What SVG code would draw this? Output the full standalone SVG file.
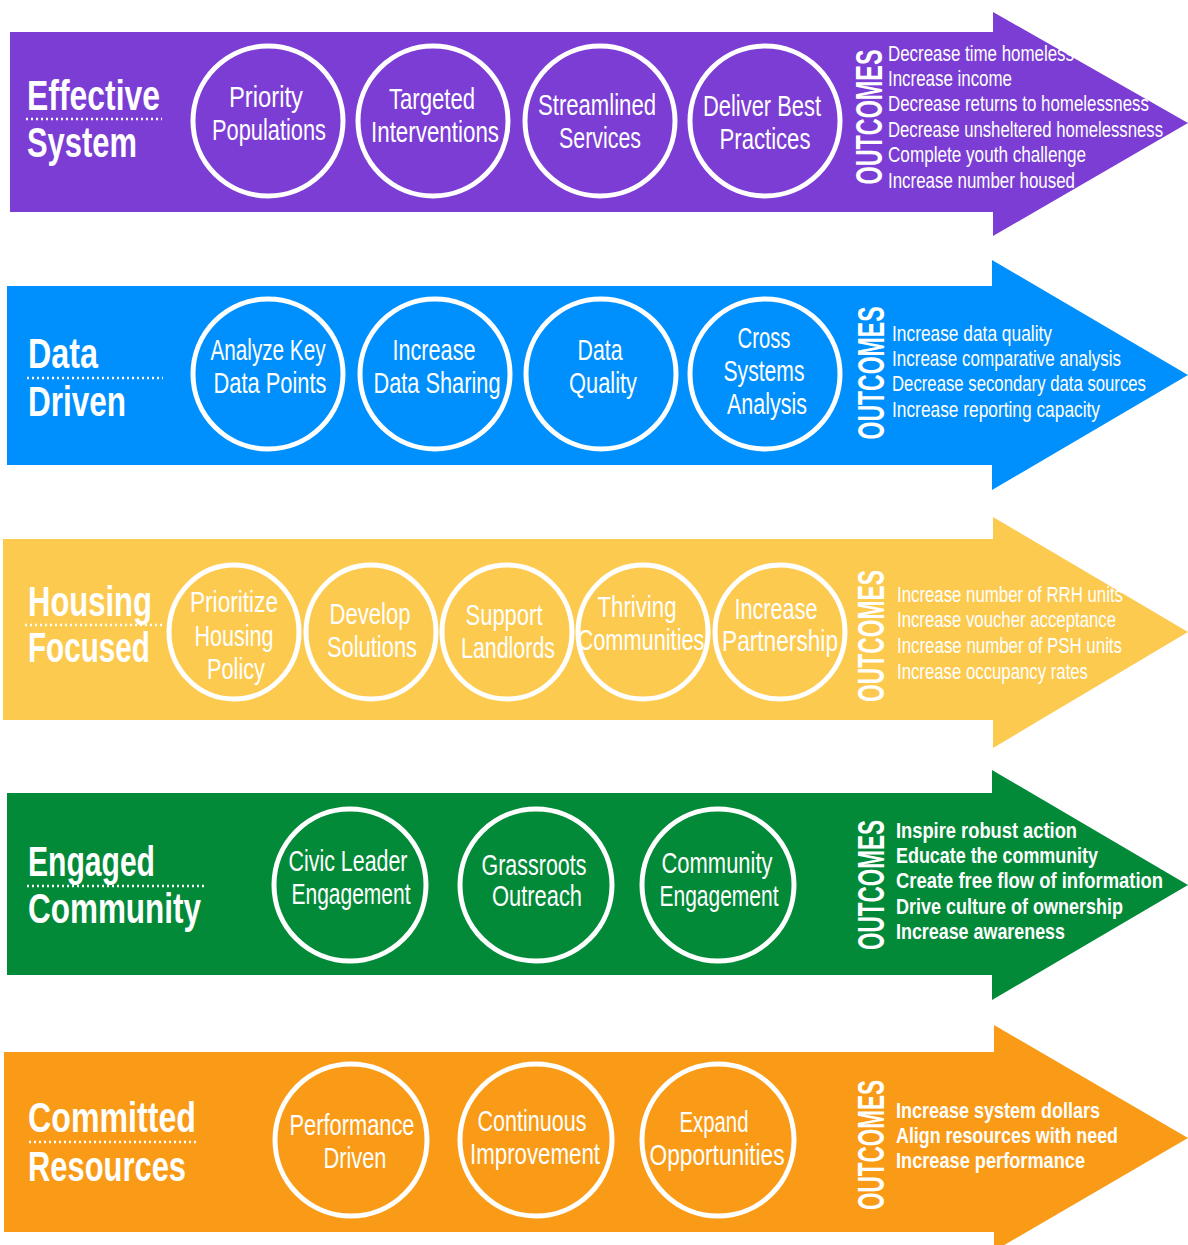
<svg xmlns="http://www.w3.org/2000/svg" width="1188" height="1245" viewBox="0 0 1188 1245">
<style>
text{fill:#fff;font-family:"Liberation Sans Narrow","Liberation Sans",Arial,sans-serif}
.title{font-size:42px;font-weight:bold}
.node{font-size:29px;text-anchor:middle}
.light{font-size:30px;text-anchor:middle}
.oc{font-size:37px;font-weight:bold;text-anchor:middle}
.out{font-size:22px}
.outb{font-size:22px;font-weight:bold}
.ring{fill:none;stroke:#fff;stroke-width:5}
.dots{stroke:#fff;stroke-width:2.5;stroke-dasharray:2 3}
</style>
<rect width="1188" height="1245" fill="#fff"/>

<g id="band-effective-system">
<polygon points="10,32 993,32 993,12 1188,123 993,236 993,212 10,212" fill="#7b3dd4"/>
<text class="title" x="27" y="110" textLength="133" lengthAdjust="spacingAndGlyphs">Effective</text>
<line class="dots" x1="26" y1="119" x2="162" y2="119"/>
<text class="title" x="27" y="157" textLength="110" lengthAdjust="spacingAndGlyphs">System</text>
<g id="n-priority"><circle class="ring" cx="268" cy="121" r="75"/>
<text class="node" x="266" y="107" textLength="74" lengthAdjust="spacingAndGlyphs">Priority</text>
<text class="node" x="269" y="140" textLength="114" lengthAdjust="spacingAndGlyphs">Populations</text></g>
<g id="n-targeted"><circle class="ring" cx="433" cy="121" r="75"/>
<text class="node" x="432" y="109" textLength="86" lengthAdjust="spacingAndGlyphs">Targeted</text>
<text class="node" x="435" y="142" textLength="128" lengthAdjust="spacingAndGlyphs">Interventions</text></g>
<g id="n-streamlined"><circle class="ring" cx="600" cy="121" r="75"/>
<text class="node" x="597" y="115" textLength="118" lengthAdjust="spacingAndGlyphs">Streamlined</text>
<text class="node" x="600" y="148" textLength="82" lengthAdjust="spacingAndGlyphs">Services</text></g>
<g id="n-deliver"><circle class="ring" cx="765" cy="121" r="75"/>
<text class="node" x="762" y="116" textLength="118" lengthAdjust="spacingAndGlyphs">Deliver Best</text>
<text class="node" x="765" y="149" textLength="91" lengthAdjust="spacingAndGlyphs">Practices</text></g>
<g id="o-effective">
<text class="oc" transform="translate(882,117) rotate(-90)" textLength="135" lengthAdjust="spacingAndGlyphs">OUTCOMES</text>
<text class="out" x="888" y="61" textLength="186" lengthAdjust="spacingAndGlyphs">Decrease time homeless</text>
<text class="out" x="888" y="86" textLength="124" lengthAdjust="spacingAndGlyphs">Increase income</text>
<text class="out" x="888" y="111" textLength="261" lengthAdjust="spacingAndGlyphs">Decrease returns to homelessness</text>
<text class="out" x="888" y="137" textLength="275" lengthAdjust="spacingAndGlyphs">Decrease unsheltered homelessness</text>
<text class="out" x="888" y="162" textLength="198" lengthAdjust="spacingAndGlyphs">Complete youth challenge</text>
<text class="out" x="888" y="188" textLength="187" lengthAdjust="spacingAndGlyphs">Increase number housed</text>
</g>
</g>

<g id="band-data-driven">
<polygon points="7,286 992,286 992,260 1188,375 992,490 992,465 7,465" fill="#0090fe"/>
<text class="title" x="28" y="368" textLength="70" lengthAdjust="spacingAndGlyphs">Data</text>
<line class="dots" x1="27" y1="378" x2="163" y2="378"/>
<text class="title" x="28" y="416" textLength="98" lengthAdjust="spacingAndGlyphs">Driven</text>
<g id="n-analyze"><circle class="ring" cx="268" cy="374" r="75"/>
<text class="node" x="268" y="360" textLength="115" lengthAdjust="spacingAndGlyphs">Analyze Key</text>
<text class="node" x="270" y="393" textLength="113" lengthAdjust="spacingAndGlyphs">Data Points</text></g>
<g id="n-sharing"><circle class="ring" cx="435" cy="374" r="75"/>
<text class="node" x="434" y="360" textLength="83" lengthAdjust="spacingAndGlyphs">Increase</text>
<text class="node" x="437" y="393" textLength="127" lengthAdjust="spacingAndGlyphs">Data Sharing</text></g>
<g id="n-quality"><circle class="ring" cx="601" cy="374" r="75"/>
<text class="node" x="600" y="360" textLength="45" lengthAdjust="spacingAndGlyphs">Data</text>
<text class="node" x="603" y="393" textLength="68" lengthAdjust="spacingAndGlyphs">Quality</text></g>
<g id="n-cross"><circle class="ring" cx="765" cy="374" r="75"/>
<text class="node" x="764" y="348" textLength="53" lengthAdjust="spacingAndGlyphs">Cross</text>
<text class="node" x="764" y="381" textLength="81" lengthAdjust="spacingAndGlyphs">Systems</text>
<text class="node" x="767" y="414" textLength="80" lengthAdjust="spacingAndGlyphs">Analysis</text></g>
<g id="o-data">
<text class="oc" transform="translate(884,373) rotate(-90)" textLength="133" lengthAdjust="spacingAndGlyphs">OUTCOMES</text>
<text class="out" x="892" y="341" textLength="160" lengthAdjust="spacingAndGlyphs">Increase data quality</text>
<text class="out" x="892" y="366" textLength="229" lengthAdjust="spacingAndGlyphs">Increase comparative analysis</text>
<text class="out" x="892" y="391" textLength="254" lengthAdjust="spacingAndGlyphs">Decrease secondary data sources</text>
<text class="out" x="892" y="417" textLength="208" lengthAdjust="spacingAndGlyphs">Increase reporting capacity</text>
</g>
</g>

<g id="band-housing-focused">
<polygon points="3,539 993,539 993,517 1188,632 993,748 993,720 3,720" fill="#fdca50"/>
<text class="title" x="28" y="616" textLength="124" lengthAdjust="spacingAndGlyphs">Housing</text>
<line class="dots" x1="25" y1="625" x2="162" y2="625"/>
<text class="title" x="28" y="662" textLength="122" lengthAdjust="spacingAndGlyphs">Focused</text>
<g id="n-prioritize"><ellipse class="ring" cx="234" cy="632" rx="65" ry="67"/>
<text class="light" x="234" y="612" textLength="88" lengthAdjust="spacingAndGlyphs">Prioritize</text>
<text class="light" x="234" y="646" textLength="79" lengthAdjust="spacingAndGlyphs">Housing</text>
<text class="light" x="236" y="679" textLength="58" lengthAdjust="spacingAndGlyphs">Policy</text></g>
<g id="n-develop"><ellipse class="ring" cx="371" cy="632" rx="65" ry="67"/>
<text class="light" x="370" y="624" textLength="81" lengthAdjust="spacingAndGlyphs">Develop</text>
<text class="light" x="372" y="657" textLength="90" lengthAdjust="spacingAndGlyphs">Solutions</text></g>
<g id="n-support"><ellipse class="ring" cx="507" cy="632" rx="65" ry="67"/>
<text class="light" x="504" y="625" textLength="77" lengthAdjust="spacingAndGlyphs">Support</text>
<text class="light" x="508" y="658" textLength="94" lengthAdjust="spacingAndGlyphs">Landlords</text></g>
<g id="n-thriving"><ellipse class="ring" cx="643" cy="632" rx="65" ry="67"/>
<text class="light" x="637" y="617" textLength="79" lengthAdjust="spacingAndGlyphs">Thriving</text>
<text class="light" x="641" y="650" textLength="127" lengthAdjust="spacingAndGlyphs">Communities</text></g>
<g id="n-partnership"><ellipse class="ring" cx="780" cy="632" rx="65" ry="67"/>
<text class="light" x="776" y="619" textLength="83" lengthAdjust="spacingAndGlyphs">Increase</text>
<text class="light" x="780" y="651" textLength="116" lengthAdjust="spacingAndGlyphs">Partnership</text></g>
<g id="o-housing">
<text class="oc" transform="translate(884,636) rotate(-90)" textLength="132" lengthAdjust="spacingAndGlyphs">OUTCOMES</text>
<text class="out" x="897" y="602" textLength="226" lengthAdjust="spacingAndGlyphs">Increase number of RRH units</text>
<text class="out" x="897" y="627" textLength="219" lengthAdjust="spacingAndGlyphs">Increase voucher acceptance</text>
<text class="out" x="897" y="653" textLength="225" lengthAdjust="spacingAndGlyphs">Increase number of PSH units</text>
<text class="out" x="897" y="679" textLength="191" lengthAdjust="spacingAndGlyphs">Increase occupancy rates</text>
</g>
</g>

<g id="band-engaged-community">
<polygon points="7,793 992,793 992,770 1188,885 992,1000 992,975 7,975" fill="#038a39"/>
<text class="title" x="28" y="876" textLength="127" lengthAdjust="spacingAndGlyphs">Engaged</text>
<line class="dots" x1="27" y1="886" x2="205" y2="886"/>
<text class="title" x="28" y="923" textLength="173" lengthAdjust="spacingAndGlyphs">Community</text>
<g id="n-civic"><circle class="ring" cx="350" cy="885" r="76"/>
<text class="node" x="348" y="871" textLength="119" lengthAdjust="spacingAndGlyphs">Civic Leader</text>
<text class="node" x="351" y="904" textLength="119" lengthAdjust="spacingAndGlyphs">Engagement</text></g>
<g id="n-grassroots"><circle class="ring" cx="536" cy="885" r="76"/>
<text class="node" x="534" y="875" textLength="105" lengthAdjust="spacingAndGlyphs">Grassroots</text>
<text class="node" x="537" y="906" textLength="90" lengthAdjust="spacingAndGlyphs">Outreach</text></g>
<g id="n-community"><circle class="ring" cx="718" cy="885" r="76"/>
<text class="node" x="717" y="873" textLength="111" lengthAdjust="spacingAndGlyphs">Community</text>
<text class="node" x="719" y="906" textLength="119" lengthAdjust="spacingAndGlyphs">Engagement</text></g>
<g id="o-engaged">
<text class="oc" transform="translate(884,885) rotate(-90)" textLength="130" lengthAdjust="spacingAndGlyphs">OUTCOMES</text>
<text class="outb" x="896" y="838" textLength="181" lengthAdjust="spacingAndGlyphs">Inspire robust action</text>
<text class="outb" x="896" y="863" textLength="202" lengthAdjust="spacingAndGlyphs">Educate the community</text>
<text class="outb" x="896" y="888" textLength="267" lengthAdjust="spacingAndGlyphs">Create free flow of information</text>
<text class="outb" x="896" y="914" textLength="227" lengthAdjust="spacingAndGlyphs">Drive culture of ownership</text>
<text class="outb" x="896" y="939" textLength="169" lengthAdjust="spacingAndGlyphs">Increase awareness</text>
</g>
</g>

<g id="band-committed-resources">
<polygon points="4,1052 994,1052 994,1025 1188,1138 994,1251 994,1232 4,1232" fill="#fa9b17"/>
<text class="title" x="28" y="1132" textLength="168" lengthAdjust="spacingAndGlyphs">Committed</text>
<line class="dots" x1="29" y1="1142" x2="196" y2="1142"/>
<text class="title" x="28" y="1181" textLength="158" lengthAdjust="spacingAndGlyphs">Resources</text>
<g id="n-performance"><circle class="ring" cx="351" cy="1140" r="76"/>
<text class="node" x="352" y="1135" textLength="125" lengthAdjust="spacingAndGlyphs">Performance</text>
<text class="node" x="355" y="1168" textLength="63" lengthAdjust="spacingAndGlyphs">Driven</text></g>
<g id="n-continuous"><circle class="ring" cx="536" cy="1140" r="76"/>
<text class="node" x="532" y="1131" textLength="109" lengthAdjust="spacingAndGlyphs">Continuous</text>
<text class="node" x="535" y="1164" textLength="130" lengthAdjust="spacingAndGlyphs">Improvement</text></g>
<g id="n-expand"><circle class="ring" cx="718" cy="1140" r="76"/>
<text class="node" x="714" y="1132" textLength="69" lengthAdjust="spacingAndGlyphs">Expand</text>
<text class="node" x="717" y="1165" textLength="135" lengthAdjust="spacingAndGlyphs">Opportunities</text></g>
<g id="o-committed">
<text class="oc" transform="translate(884,1145) rotate(-90)" textLength="130" lengthAdjust="spacingAndGlyphs">OUTCOMES</text>
<text class="outb" x="896" y="1118" textLength="204" lengthAdjust="spacingAndGlyphs">Increase system dollars</text>
<text class="outb" x="896" y="1143" textLength="222" lengthAdjust="spacingAndGlyphs">Align resources with need</text>
<text class="outb" x="896" y="1168" textLength="189" lengthAdjust="spacingAndGlyphs">Increase performance</text>
</g>
</g>

<g id="connectors"></g>
</svg>
